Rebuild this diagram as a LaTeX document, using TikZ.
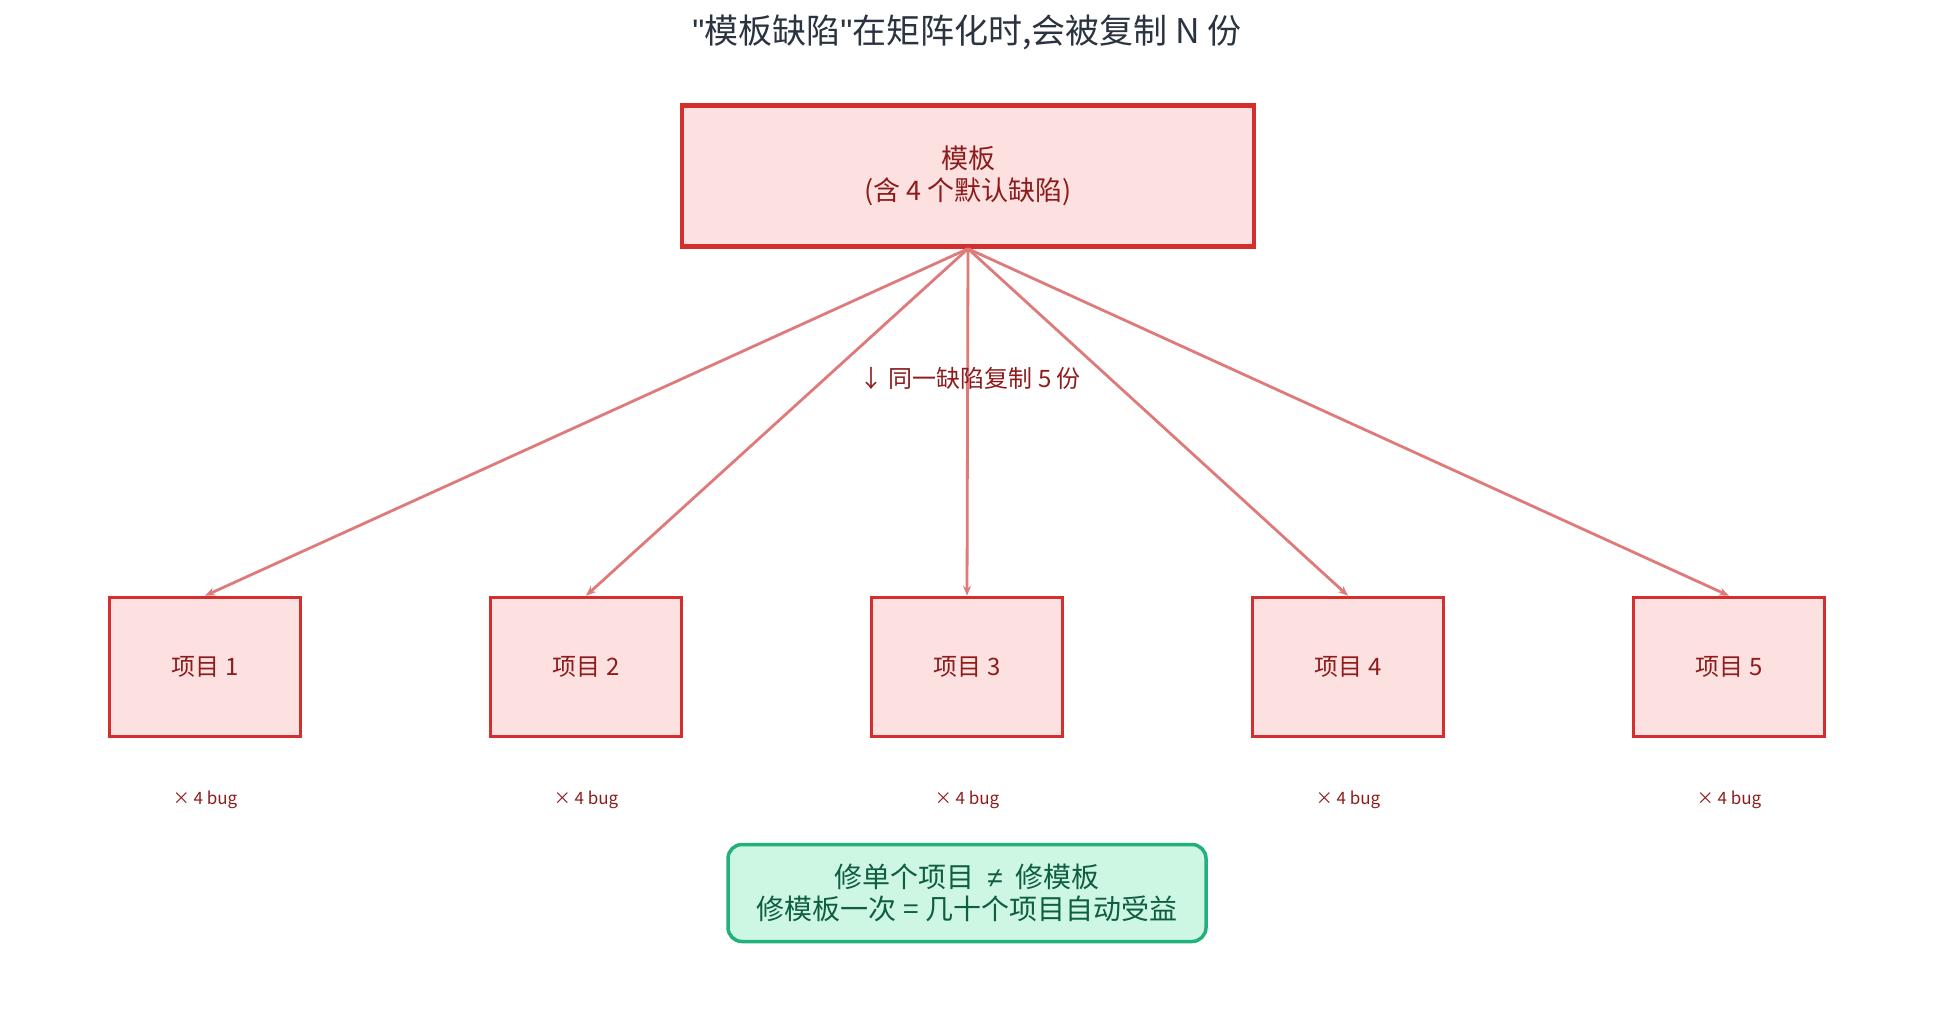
\documentclass[tikz,border=0pt]{standalone}
\usepackage{fontspec}
\setmainfont{Noto Sans CJK SC}
\newfontfamily\latinf{Liberation Sans}
\usetikzlibrary{arrows.meta}
\definecolor{rstroke}{HTML}{D32F2F}
\definecolor{rfill}{HTML}{FDE1E1}
\definecolor{rtext}{HTML}{8E1C1C}
\definecolor{rarrow}{HTML}{DE7A7A}
\definecolor{gfill}{HTML}{CDF7E3}
\definecolor{gstroke}{HTML}{22B07D}
\definecolor{gtext}{HTML}{0E5E42}
\definecolor{ttext}{HTML}{2A3440}
\tikzset{
  tmpl/.style={draw=rstroke,line width=4.5pt,fill=rfill,minimum width=572pt,minimum height=141pt,align=center,text=rtext,font=\fontsize{27}{32}\selectfont},
  proj/.style={draw=rstroke,line width=3.5pt,fill=rfill,minimum width=191pt,minimum height=139pt,text=rtext,font=\fontsize{24}{28}\selectfont},
  buglbl/.style={text=rtext,font=\fontsize{17}{20}\selectfont},
  arr/.style={draw=rarrow,line width=2.8pt,-{Stealth[length=10pt,width=8pt]}},
}
\begin{document}
\begin{tikzpicture}[x=1pt,y=-1pt]
\useasboundingbox (0,0) rectangle (1935,1033);
\node[text=ttext,font=\fontsize{34}{40}\selectfont] (title) at (967,32) {{\latinf\symbol{34}}模板缺陷{\latinf\symbol{34}}在矩阵化时,会被复制 N 份};
\node[tmpl] (t) at (968,176) {模板\\(含 4 个默认缺陷)};
\foreach \i/\x in {1/205,2/586,3/967,4/1348,5/1729}{
  \node[proj] (p\i) at (\x,667) {项目 \i};
  \node[buglbl] (b\i) at (\x,800) {× 4 bug};
  \draw[arr] (t.south) -- (p\i.north);
}
\node[text=rtext,font=\fontsize{24}{28}\selectfont] (lbl) at (970,378) {↓ 同一缺陷复制 5 份};
\node[draw=gstroke,line width=3.5pt,fill=gfill,rounded corners=14pt,minimum width=478pt,minimum height=97pt,align=center,text=gtext,font=\fontsize{28}{32}\selectfont] (g) at (967,893) {修单个项目 \ {\latinf ≠} \ 修模板\\修模板一次 = 几十个项目自动受益};
\end{tikzpicture}
\end{document}
